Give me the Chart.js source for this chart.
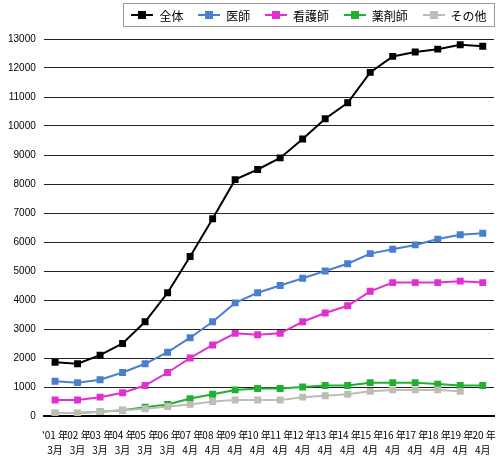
<!DOCTYPE html><html><head><meta charset="utf-8">
<script src="https://cdn.jsdelivr.net/npm/chart.js"></script>
<style>html,body{margin:0;padding:0;background:#fff}#w{width:500px;height:462px;position:relative}
#lg{position:absolute;left:123px;top:3px;width:372px;height:24px;border:1px solid #999;box-sizing:border-box;display:flex;align-items:center;justify-content:space-around;font:12px "Noto Sans CJK JP";}
#lg span{display:flex;align-items:center}#lg i{display:inline-block;width:22px;height:2px;position:relative;margin-right:6px}
#lg i:after{content:"";position:absolute;left:7px;top:-3px;width:8px;height:8px;background:inherit}</style></head><body>
<div id="w"><canvas id="c" width="500" height="462"></canvas><div id="lg"></div></div>
<script>
const categories=[["'01 年","3月"],["'02 年","3月"],["'03 年","3月"],["'04 年","3月"],["'05 年","3月"],["'06 年","3月"],["'07 年","4月"],["'08 年","4月"],["'09 年","4月"],["'10 年","4月"],["'11 年","4月"],["'12 年","4月"],["'13 年","4月"],["'14 年","4月"],["'15 年","4月"],["'16 年","4月"],["'17 年","4月"],["'18 年","4月"],["'19 年","4月"],["'20 年","4月"]];
const seriesNames=["全体","医師","看護師","薬剤師","その他"];
const colors=["#000000","#4a7fd0","#e030d0","#20b030","#bdbdb5"];
const total=[1850,1800,2100,2500,3250,4250,5500,6800,8150,8500,8900,9550,10250,10800,11850,12400,12550,12650,12800,12750];
const doctor=[1200,1150,1250,1500,1800,2200,2700,3250,3900,4250,4500,4750,5000,5250,5600,5750,5900,6100,6250,6300];
const nurse=[550,550,650,800,1050,1500,2000,2450,2850,2800,2850,3250,3550,3800,4300,4600,4600,4600,4650,4600];
const pharm=[100,100,150,200,300,400,600,750,900,950,950,1000,1050,1050,1150,1150,1150,1100,1050,1050];
const other=[100,100,150,200,250,330,400,500,550,550,550,650,700,750,850,900,900,900,850,null];
const all=[total,doctor,nurse,pharm,other];
const lg=document.getElementById('lg');
seriesNames.forEach((n,i)=>{lg.innerHTML+=`<span><i style="background:${colors[i]}"></i>${n}</span>`});
const ds=[4,3,2,1,0].map(i=>({label:seriesNames[i],data:all[i],borderColor:colors[i],backgroundColor:colors[i],borderWidth:2,pointStyle:'rect',pointRadius:3.5,tension:0}));
new Chart(document.getElementById('c'),{type:'line',data:{labels:categories,datasets:ds},
options:{responsive:false,animation:false,layout:{padding:{top:39,right:4,left:0,bottom:0}},
plugins:{legend:{display:false},tooltip:{enabled:false}},
scales:{x:{offset:true,grid:{display:false},border:{color:'#000',width:2},ticks:{color:'#000',font:{size:10,family:'Noto Sans CJK JP',lineHeight:1.5},maxRotation:0,autoSkip:false,padding:4}},
y:{min:0,max:13000,ticks:{stepSize:1000,color:'#000',font:{size:10,family:'Liberation Sans'},padding:8,callback:v=>String(v)},border:{display:false},grid:{color:'#222',lineWidth:1,drawTicks:false}}}}});
</script></body></html>
